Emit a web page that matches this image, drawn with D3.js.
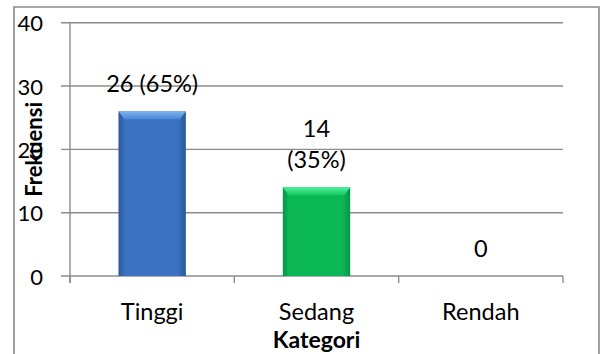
<!DOCTYPE html>
<html>
<head>
<meta charset="utf-8">
<script src="https://cdn.jsdelivr.net/npm/d3@7"></script>
<style>
  body { margin: 0; background: #fff; }
  text { font-family: Lato, "Open Sans", sans-serif; fill: #000; }
</style>
</head>
<body>
<div id="chart"></div>
<script>
// data
var categories = ["Tinggi", "Sedang", "Rendah"];
var frekuensi = [26, 14, 0];
var barLabels = [["26 (65%)"], ["14", "(35%)"], ["0"]];
var yTicks = [0, 10, 20, 30, 40];
var barColors = ["blue", "green", "none"];

function init() {
    var w = 600;
    var h = 354;
    var left = 70, right = 563, top = 22.7, bottom = 276;
    var fs = 23.5;

    var svg = d3.select("#chart")
                .append("svg")
                .attr("width", w)
                .attr("height", h);

    // gradients for the bevelled bars
    var defs = svg.append("defs");
    var pal = {
        blue:  { edge: "#2b5896", mid: "#3b72c2", bevelA: "#7db4f0", bevelB: "#4a86d4" },
        green: { edge: "#06954a", mid: "#0cb856", bevelA: "#4cf097", bevelB: "#14c862" }
    };
    Object.keys(pal).forEach(function(k) {
        var g = defs.append("linearGradient").attr("id", "side-" + k)
            .attr("x1", 0).attr("x2", 1).attr("y1", 0).attr("y2", 0);
        g.append("stop").attr("offset", "0%").attr("stop-color", pal[k].edge);
        g.append("stop").attr("offset", "10%").attr("stop-color", pal[k].mid);
        g.append("stop").attr("offset", "88%").attr("stop-color", pal[k].mid);
        g.append("stop").attr("offset", "100%").attr("stop-color", pal[k].edge);
        var b = defs.append("linearGradient").attr("id", "bevel-" + k)
            .attr("x1", 0).attr("x2", 0).attr("y1", 0).attr("y2", 1);
        b.append("stop").attr("offset", "0%").attr("stop-color", pal[k].bevelA);
        b.append("stop").attr("offset", "100%").attr("stop-color", pal[k].bevelB);
    });

    // outer frame
    svg.append("path")
       .attr("d", "M14,354 L14,7 L599,7 L599,354")
       .attr("fill", "none")
       .attr("stroke", "#8a8a8a")
       .attr("stroke-width", 1.6);

    var x = d3.scaleBand().domain(categories).range([left, right]).padding(0);
    var y = d3.scaleLinear().domain([0, 40]).range([bottom, top]);

    // gridlines
    svg.selectAll("line.grid")
       .data(yTicks)
       .enter()
       .append("line")
       .attr("class", "grid")
       .attr("x1", left - 9)
       .attr("x2", right)
       .attr("y1", function(d) { return y(d); })
       .attr("y2", function(d) { return y(d); })
       .attr("stroke", "#8c8c8c")
       .attr("stroke-width", 1.4);

    // y axis line
    svg.append("line")
       .attr("x1", left).attr("x2", left)
       .attr("y1", y(40)).attr("y2", bottom + 7)
       .attr("stroke", "#8c8c8c").attr("stroke-width", 1.4);

    // category ticks at band edges
    var edges = categories.map(function(c) { return x(c); }).concat([right]);
    svg.selectAll("line.xtick")
       .data(edges)
       .enter()
       .append("line")
       .attr("class", "xtick")
       .attr("x1", function(d) { return d; })
       .attr("x2", function(d) { return d; })
       .attr("y1", bottom)
       .attr("y2", bottom + 7)
       .attr("stroke", "#8c8c8c").attr("stroke-width", 1.4);

    // y tick labels
    svg.selectAll("text.ytick")
       .data(yTicks)
       .enter()
       .append("text")
       .attr("class", "ytick")
       .attr("x", 43)
       .attr("y", function(d) { return y(d) + 8.5; })
       .attr("text-anchor", "end")
       .attr("font-size", 22)
       .text(function(d) { return d; });

    // bars
    var bw = x.bandwidth() * 0.41;
    var bars = svg.selectAll("g.bar")
       .data(frekuensi)
       .enter()
       .append("g")
       .attr("class", "bar")
       .filter(function(d, i) { return d > 0 && barColors[i] !== "none"; });

    bars.append("rect")
       .attr("x", function(d, i) { return x(categories[i]) + x.bandwidth() / 2 - bw / 2; })
       .attr("y", function(d) { return y(d); })
       .attr("width", bw)
       .attr("height", function(d) { return bottom - y(d); })
       .attr("fill", function(d, i) { return "url(#side-" + barColors[i] + ")"; });

    bars.append("path")
       .attr("d", function(d, i) {
           var x0 = x(categories[i]) + x.bandwidth() / 2 - bw / 2, y0 = y(d);
           return "M" + x0 + "," + y0 + " L" + (x0 + bw) + "," + y0 +
                  " L" + (x0 + bw - 6) + "," + (y0 + 8) + " L" + (x0 + 6) + "," + (y0 + 8) + " Z";
       })
       .attr("fill", function(d, i) { return "url(#bevel-" + barColors[i] + ")"; });

    // value labels
    var lab = svg.selectAll("text.val")
       .data(frekuensi)
       .enter()
       .append("text")
       .attr("class", "val")
       .attr("text-anchor", "middle")
       .attr("font-size", fs);
    lab.each(function(d, i) {
        var lines = barLabels[i];
        var cx = x(categories[i]) + x.bandwidth() / 2;
        var base = y(d) - 19;
        var t = d3.select(this);
        lines.forEach(function(s, j) {
            t.append("tspan")
             .attr("x", cx)
             .attr("y", base - (lines.length - 1 - j) * 31)
             .text(s);
        });
    });

    // category labels
    svg.selectAll("text.cat")
       .data(categories)
       .enter()
       .append("text")
       .attr("class", "cat")
       .attr("x", function(d) { return x(d) + x.bandwidth() / 2; })
       .attr("y", 320)
       .attr("text-anchor", "middle")
       .attr("font-size", fs)
       .text(function(d) { return d; });

    // axis titles
    svg.append("text")
       .attr("x", (left + right) / 2)
       .attr("y", 348)
       .attr("text-anchor", "middle")
       .attr("font-size", 23)
       .attr("font-weight", "bold")
       .text("Kategori");

    svg.append("text")
       .attr("transform", "translate(42," + ((top + bottom) / 2) + ") rotate(-90)")
       .attr("text-anchor", "middle")
       .attr("font-size", 22)
       .attr("font-weight", "bold")
       .text("Frekuensi");
}

window.onload = init;
</script>
</body>
</html>
